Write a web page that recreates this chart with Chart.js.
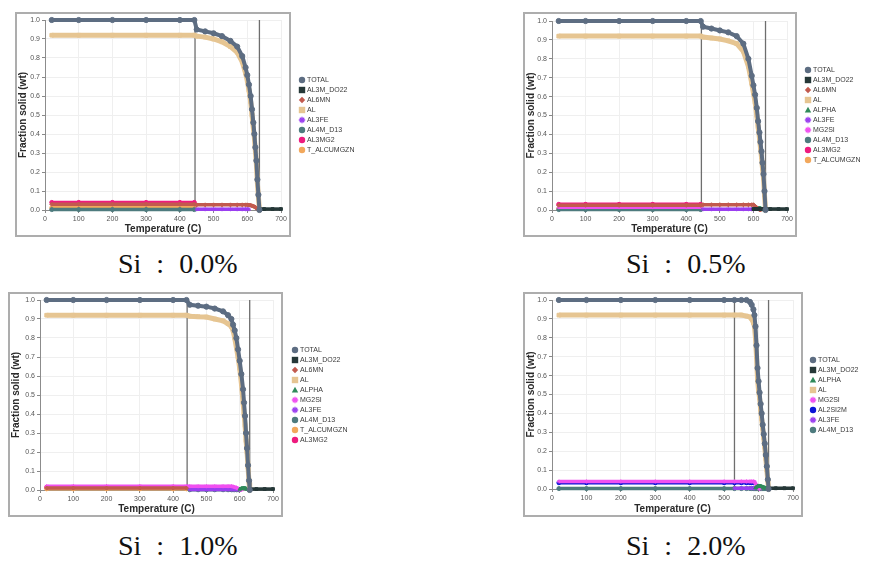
<!DOCTYPE html>
<html>
<head>
<meta charset="utf-8">
<script src="https://cdn.jsdelivr.net/npm/chart.js@4.4.1/dist/chart.umd.min.js"></script>
<style>
  body { margin: 0; background: #fff; width: 870px; height: 568px; position: relative; overflow: hidden; }
  .frame { position: absolute; border: 2px solid #adadad; box-sizing: border-box; }
  .box { position: absolute; }
  .cap { position: absolute; font-family: "Liberation Serif", "DejaVu Serif", serif; font-size: 28px; line-height: 28px; color: #111; word-spacing: 8px; white-space: pre; }
</style>
</head>
<body>
<div class="frame" style="left:15px;top:12px;width:276px;height:225px"></div>
<div class="frame" style="left:523px;top:12px;width:274px;height:225px"></div>
<div class="frame" style="left:8px;top:292px;width:275px;height:225px"></div>
<div class="frame" style="left:523px;top:292px;width:280px;height:225px"></div>
<div class="box" style="left:15px;top:12px"><canvas id="c1" width="386" height="225"></canvas></div>
<div class="box" style="left:523px;top:12px"><canvas id="c2" width="347" height="225"></canvas></div>
<div class="box" style="left:8px;top:292px"><canvas id="c3" width="385" height="225"></canvas></div>
<div class="box" style="left:523px;top:292px"><canvas id="c4" width="347" height="225"></canvas></div>
<div class="cap" style="left:118px;top:250px">Si : 0.0%</div>
<div class="cap" style="left:626px;top:250px">Si : 0.5%</div>
<div class="cap" style="left:118px;top:532px">Si : 1.0%</div>
<div class="cap" style="left:626px;top:532px">Si : 2.0%</div>

<script>
// 공통 축 눈금
const xTicks = [0, 100, 200, 300, 400, 500, 600, 700];
const yTicks = [0, 0.1, 0.2, 0.3, 0.4, 0.5, 0.6, 0.7, 0.8, 0.9, 1.0];
const markerY = [0, 1.0];

// ---- Si 0.0% ----
const tA = [20, 100, 200, 300, 400, 443, 450, 475, 500, 525, 550, 570, 585, 595, 600, 605, 610, 614, 618, 621, 624, 627, 630, 633, 636, 650, 675, 700];
const boundsA = [445, 636];
const totalA = [1, 1, 1, 1, 1, 1, 0.95, 0.94, 0.93, 0.915, 0.89, 0.86, 0.81, 0.75, 0.71, 0.66, 0.6, 0.53, 0.46, 0.4, 0.33, 0.26, 0.16, 0.08, 0, null, null, null];
const alA = [0.92, 0.92, 0.92, 0.92, 0.92, 0.92, 0.915, 0.91, 0.9, 0.885, 0.86, 0.83, 0.78, 0.72, 0.68, 0.63, 0.57, 0.5, 0.43, 0.38, 0.31, 0.24, 0.14, 0.07, 0, null, null, null];
const al3mg2A = [0.04, 0.04, 0.04, 0.04, 0.04, 0.04, null, null, null, null, null, null, null, null, null, null, null, null, null, null, null, null, null, null, null, null, null, null];
const al6mnA = [0.03, 0.03, 0.03, 0.03, 0.03, 0.03, 0.027, 0.027, 0.027, 0.027, 0.027, 0.027, 0.027, 0.027, 0.027, 0.026, 0.025, 0.022, 0.02, 0.017, 0.014, 0.01, 0.006, 0.003, 0, null, null, null];
const tcA = [0.012, 0.012, 0.012, 0.012, 0.012, 0.012, null, null, null, null, null, null, null, null, null, null, null, null, null, null, null, null, null, null, null, null, null, null];
const al4mA = [0.002, 0.002, 0.002, 0.002, 0.002, 0.002, null, null, null, null, null, null, null, null, null, null, null, null, null, null, null, null, null, null, null, null, null, null];
const al3feA = [null, null, null, null, null, null, 0.004, 0.004, 0.004, 0.004, 0.004, 0.004, 0.004, 0.004, 0.004, 0.004, null, null, null, null, null, null, null, null, null, null, null, null];
const al3mA = [null, null, null, null, null, null, null, null, null, null, null, null, null, null, null, null, null, null, null, null, null, null, null, null, 0.005, 0.005, 0.005, 0.005];

// ---- Si 0.5% ----
const tB = [20, 100, 200, 300, 400, 443, 450, 475, 500, 525, 550, 570, 585, 595, 600, 605, 610, 614, 618, 621, 624, 627, 630, 633, 636, 650, 675, 700];
const boundsB = [445, 636];
const totalB = [1, 1, 1, 1, 1, 1, 0.97, 0.96, 0.95, 0.94, 0.92, 0.88, 0.8, 0.71, 0.66, 0.61, 0.54, 0.47, 0.41, 0.36, 0.31, 0.25, 0.19, 0.1, 0, null, null, null];
const alB = [0.92, 0.92, 0.92, 0.92, 0.92, 0.92, 0.915, 0.91, 0.905, 0.895, 0.88, 0.84, 0.76, 0.67, 0.62, 0.57, 0.5, 0.44, 0.38, 0.33, 0.28, 0.22, 0.17, 0.08, 0, null, null, null];
const al3mg2B = [0.03, 0.03, 0.03, 0.03, 0.03, 0.03, null, null, null, null, null, null, null, null, null, null, null, null, null, null, null, null, null, null, null, null, null, null];
const al6mnB = [0.025, 0.025, 0.025, 0.025, 0.025, 0.025, 0.028, 0.028, 0.028, 0.028, 0.028, 0.028, 0.028, 0.028, 0.028, 0.02, 0.012, 0.006, 0.002, 0, null, null, null, null, null, null, null, null];
const mg2siB = [0.015, 0.015, 0.015, 0.015, 0.015, 0.015, null, null, null, null, null, null, null, null, null, null, null, null, null, null, null, null, null, null, null, null, null, null];
const tcB = [0.008, 0.008, 0.008, 0.008, 0.008, 0.008, null, null, null, null, null, null, null, null, null, null, null, null, null, null, null, null, null, null, null, null, null, null];
const al4mB = [0.002, 0.002, 0.002, 0.002, 0.002, 0.002, null, null, null, null, null, null, null, null, null, null, null, null, null, null, null, null, null, null, null, null, null, null];
const al3feB = [null, null, null, null, null, null, 0.004, 0.004, 0.004, 0.004, 0.004, 0.004, 0.004, 0.004, 0.004, null, null, null, null, null, null, null, null, null, null, null, null, null];
const alphaB = [null, null, null, null, null, null, null, null, null, null, null, null, null, null, null, 0.005, 0.008, 0.01, 0.01, 0.008, 0.006, 0.004, 0.002, 0.001, 0, null, null, null];
const al3mB = [null, null, null, null, null, null, null, null, null, null, null, null, null, null, 0.005, 0.005, 0.005, 0.005, 0.005, 0.005, 0.005, 0.005, 0.005, 0.005, 0.005, 0.005, 0.005, 0.005];

// ---- Si 1.0% ----
const tC = [20, 100, 200, 300, 400, 440, 450, 475, 500, 525, 550, 565, 575, 580, 585, 590, 595, 600, 605, 610, 613, 616, 619, 622, 625, 628, 630, 650, 675, 700];
const boundsC = [442, 630];
const totalC = [1, 1, 1, 1, 1, 1, 0.975, 0.97, 0.965, 0.955, 0.94, 0.92, 0.9, 0.87, 0.84, 0.8, 0.74, 0.68, 0.61, 0.53, 0.46, 0.39, 0.3, 0.22, 0.13, 0.05, 0, null, null, null];
const alC = [0.92, 0.92, 0.92, 0.92, 0.92, 0.92, 0.915, 0.912, 0.91, 0.9, 0.89, 0.875, 0.86, 0.84, 0.8, 0.75, 0.7, 0.64, 0.56, 0.46, 0.4, 0.34, 0.26, 0.2, 0.12, 0.04, 0, null, null, null];
const al3mg2C = [0.015, 0.015, 0.015, 0.015, 0.015, 0.015, null, null, null, null, null, null, null, null, null, null, null, null, null, null, null, null, null, null, null, null, null, null, null, null];
const mg2siC = [0.02, 0.02, 0.02, 0.02, 0.02, 0.02, 0.02, 0.02, 0.02, 0.02, 0.02, 0.02, 0.02, 0.018, 0.015, 0.012, 0.008, 0.004, 0, null, null, null, null, null, null, null, null, null, null, null];
const al6mnC = [0.01, 0.01, 0.01, 0.01, 0.01, 0.01, null, null, null, null, null, null, null, null, null, null, null, null, null, null, null, null, null, null, null, null, null, null, null, null];
const tcC = [0.006, 0.006, 0.006, 0.006, 0.006, 0.006, null, null, null, null, null, null, null, null, null, null, null, null, null, null, null, null, null, null, null, null, null, null, null, null];
const al3feC = [null, null, null, null, null, null, 0.003, 0.003, 0.003, 0.003, 0.003, 0.003, 0.003, 0.003, 0.003, 0.003, 0.003, 0.003, null, null, null, null, null, null, null, null, null, null, null, null];
const al4mC = [null, null, null, null, null, null, 0.001, 0.001, 0.001, 0.001, 0.001, 0.001, 0.001, 0.001, 0.001, 0.001, 0.001, 0.001, null, null, null, null, null, null, null, null, null, null, null, null];
const alphaC = [null, null, null, null, null, null, null, null, null, null, null, null, null, null, null, null, null, 0.004, 0.008, 0.01, 0.01, 0.009, 0.007, 0.005, 0.003, 0.001, 0, null, null, null];
const al3mC = [null, null, null, null, null, null, null, null, null, null, null, null, null, null, null, null, null, null, null, null, null, null, null, null, null, null, 0.005, 0.005, 0.005, 0.005];

// ---- Si 2.0% ----
const tD = [20, 100, 200, 300, 400, 500, 530, 550, 565, 575, 580, 585, 588, 591, 594, 597, 600, 603, 606, 609, 612, 615, 618, 621, 624, 627, 629, 650, 675, 700];
const boundsD = [530, 629];
const totalD = [1, 1, 1, 1, 1, 1, 1, 1, 1, 0.99, 0.975, 0.95, 0.92, 0.86, 0.76, 0.64, 0.57, 0.51, 0.45, 0.4, 0.34, 0.29, 0.24, 0.18, 0.12, 0.05, 0, null, null, null];
const alD = [0.92, 0.92, 0.92, 0.92, 0.92, 0.92, 0.92, 0.92, 0.915, 0.91, 0.9, 0.88, 0.86, 0.8, 0.7, 0.58, 0.52, 0.48, 0.42, 0.37, 0.32, 0.27, 0.22, 0.16, 0.1, 0.04, 0, null, null, null];
const mg2siD = [0.04, 0.04, 0.04, 0.04, 0.04, 0.04, 0.04, 0.04, 0.04, 0.04, 0.04, 0.04, 0.038, 0.03, 0.02, 0.012, 0.005, 0, null, null, null, null, null, null, null, null, null, null, null, null];
const al2si2mD = [0.033, 0.033, 0.033, 0.033, 0.033, 0.033, 0.033, 0.033, 0.033, 0.033, 0.033, 0.033, null, null, null, null, null, null, null, null, null, null, null, null, null, null, null, null, null, null];
const al4mD = [0.002, 0.002, 0.002, 0.002, 0.002, 0.002, 0.002, 0.002, 0.002, 0.002, 0.002, 0.002, 0.002, 0.002, 0.002, 0.002, 0.002, 0.002, 0.002, 0.002, 0.002, 0.002, 0.002, 0.002, 0.002, 0.002, 0.002, null, null, null];
const al3feD = [null, null, null, null, null, null, 0.004, 0.004, 0.004, 0.004, 0.004, 0.004, 0.004, null, null, null, null, null, null, null, null, null, null, null, null, null, null, null, null, null];
const alphaD = [null, null, null, null, null, null, null, null, null, null, null, null, null, 0.006, 0.01, 0.014, 0.016, 0.016, 0.015, 0.013, 0.011, 0.009, 0.007, 0.005, 0.003, 0.001, 0, null, null, null];
const al3mD = [null, null, null, null, null, null, null, null, null, null, null, null, null, null, null, null, null, null, null, null, null, null, null, null, null, null, 0.004, 0.004, 0.004, 0.004];

// 상(phase)별 색상 / 마커
const phaseStyle = {
  'TOTAL': ['#5d6d82', 'circle'],
  'AL3M_DO22': ['#263838', 'rect'],
  'AL6MN': ['#c25a4e', 'rectRot'],
  'AL': ['#e6c592', 'rect'],
  'ALPHA': ['#2f8a5a', 'triangle'],
  'AL3FE': ['#9a3ff0', 'star'],
  'MG2SI': ['#f050f0', 'star'],
  'AL4M_D13': ['#4e7b7e', 'circle'],
  'AL3MG2': ['#ee1b7e', 'circle'],
  'T_ALCUMGZN': ['#f2a85c', 'circle'],
  'AL2SI2M': ['#0a14d8', 'circle']
};

const panels = [
  { id: 'c1', area: [30, 266, 8, 198], legendX: 287, temps: tA, bounds: boundsA,
    series: [['TOTAL', totalA], ['AL3M_DO22', al3mA], ['AL6MN', al6mnA], ['AL', alA], ['AL3FE', al3feA],
             ['AL4M_D13', al4mA], ['AL3MG2', al3mg2A], ['T_ALCUMGZN', tcA]] },
  { id: 'c2', area: [29, 264, 9, 198], legendX: 285, temps: tB, bounds: boundsB,
    series: [['TOTAL', totalB], ['AL3M_DO22', al3mB], ['AL6MN', al6mnB], ['AL', alB], ['ALPHA', alphaB],
             ['AL3FE', al3feB], ['MG2SI', mg2siB], ['AL4M_D13', al4mB], ['AL3MG2', al3mg2B], ['T_ALCUMGZN', tcB]] },
  { id: 'c3', area: [32, 265, 8, 198], legendX: 287, temps: tC, bounds: boundsC,
    series: [['TOTAL', totalC], ['AL3M_DO22', al3mC], ['AL6MN', al6mnC], ['AL', alC], ['ALPHA', alphaC],
             ['MG2SI', mg2siC], ['AL3FE', al3feC], ['AL4M_D13', al4mC], ['T_ALCUMGZN', tcC], ['AL3MG2', al3mg2C]] },
  { id: 'c4', area: [29, 270, 8, 197], legendX: 290, temps: tD, bounds: boundsD,
    series: [['TOTAL', totalD], ['AL3M_DO22', al3mD], ['ALPHA', alphaD], ['AL', alD], ['MG2SI', mg2siD],
             ['AL2SI2M', al2si2mD], ['AL3FE', al3feD], ['AL4M_D13', al4mD]] }
];

Chart.defaults.font.family = '"Liberation Sans", Arial, sans-serif';

function drawMark(ctx, style, x, y, r, color) {
  ctx.save();
  ctx.fillStyle = color;
  ctx.strokeStyle = color;
  ctx.lineWidth = 1.3;
  ctx.beginPath();
  if (style === 'rect') {
    ctx.rect(x - r, y - r, 2 * r, 2 * r);
    ctx.fill();
  } else if (style === 'rectRot') {
    ctx.moveTo(x, y - r); ctx.lineTo(x + r, y); ctx.lineTo(x, y + r); ctx.lineTo(x - r, y);
    ctx.closePath(); ctx.fill();
  } else if (style === 'triangle') {
    ctx.moveTo(x, y - r); ctx.lineTo(x + r, y + r * 0.8); ctx.lineTo(x - r, y + r * 0.8);
    ctx.closePath(); ctx.fill();
  } else if (style === 'star') {
    ctx.moveTo(x - r, y); ctx.lineTo(x + r, y);
    ctx.moveTo(x, y - r); ctx.lineTo(x, y + r);
    ctx.moveTo(x - r * 0.7, y - r * 0.7); ctx.lineTo(x + r * 0.7, y + r * 0.7);
    ctx.moveTo(x - r * 0.7, y + r * 0.7); ctx.lineTo(x + r * 0.7, y - r * 0.7);
    ctx.stroke();
  } else {
    ctx.arc(x, y, r, 0, Math.PI * 2);
    ctx.fill();
  }
  ctx.restore();
}

function makeLegend(p) {
  return {
    id: 'sideLegend',
    afterDraw(chart) {
      const ctx = chart.ctx;
      const n = p.series.length;
      let y = 103 - (n - 1) * 5;
      ctx.save();
      ctx.font = '7px "Liberation Sans", Arial, sans-serif';
      ctx.textBaseline = 'middle';
      p.series.forEach(s => {
        const st = phaseStyle[s[0]];
        drawMark(ctx, st[1], p.legendX, y, 3.2, st[0]);
        ctx.fillStyle = '#3a3a3a';
        ctx.fillText(s[0], p.legendX + 5, y + 0.5);
        y += 10;
      });
      ctx.restore();
    }
  };
}

panels.forEach(p => {
  const canvas = document.getElementById(p.id);
  const W = canvas.width, H = canvas.height;
  const [left, right, top, bottom] = p.area;

  const datasets = p.series.map(s => {
    const st = phaseStyle[s[0]];
    const vals = s[1];
    const pts = [];
    p.temps.forEach((t, i) => { if (vals[i] !== null) pts.push({ x: t, y: vals[i] }); });
    const big = s[0] === 'TOTAL' || s[0] === 'AL';
    return {
      label: s[0],
      data: pts,
      showLine: true,
      borderColor: st[0],
      backgroundColor: st[0],
      borderWidth: s[0] === 'AL' ? 5 : (big ? 4 : 3.5),
      pointStyle: st[1],
      pointRadius: big ? 2.6 : 2,
      pointBorderWidth: 1,
      clip: 6
    };
  });
  p.bounds.forEach(b => {
    datasets.push({
      label: '',
      data: markerY.map(v => ({ x: b, y: v })),
      showLine: true,
      borderColor: '#6e6e6e',
      borderWidth: 1.3,
      pointRadius: 0
    });
  });

  new Chart(canvas, {
    type: 'scatter',
    data: { datasets: datasets },
    options: {
      responsive: false,
      animation: false,
      events: [],
      layout: { padding: { left: 2, right: W - right, top: top, bottom: 2 } },
      plugins: { legend: { display: false }, tooltip: { enabled: false } },
      scales: {
        x: {
          type: 'linear', min: xTicks[0], max: xTicks[xTicks.length - 1],
          afterBuildTicks: sc => { sc.ticks = xTicks.map(v => ({ value: v })); },
          afterFit: sc => { sc.height = H - bottom - 2; },
          ticks: { font: { size: 7 }, color: '#555', padding: 2, callback: v => v },
          grid: { color: '#efefef', tickLength: 3, tickColor: '#888' },
          border: { color: '#8c8c8c' },
          title: { display: true, text: 'Temperature (C)', color: '#2a2a2a', font: { size: 10, weight: 'bold' }, padding: { top: 1, bottom: 0 } }
        },
        y: {
          type: 'linear', min: yTicks[0], max: yTicks[yTicks.length - 1],
          afterBuildTicks: sc => { sc.ticks = yTicks.map(v => ({ value: v })); },
          afterFit: sc => { sc.width = left - 2; },
          ticks: { font: { size: 7 }, color: '#555', padding: 2, callback: v => v.toFixed(1) },
          grid: { color: '#efefef', tickLength: 3, tickColor: '#888' },
          border: { color: '#8c8c8c' },
          title: { display: true, text: 'Fraction solid (wt)', color: '#2a2a2a', font: { size: 10, weight: 'bold' }, padding: { top: 0, bottom: 1 } }
        }
      }
    },
    plugins: [makeLegend(p)]
  });
});
</script>
</body>
</html>
